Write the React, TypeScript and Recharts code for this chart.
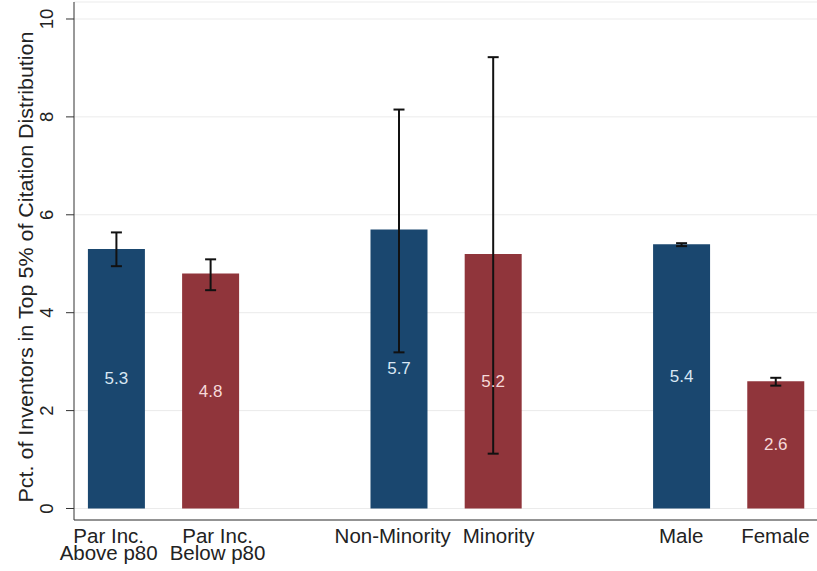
import React from "react";
import {
  BarChart,
  Bar,
  XAxis,
  YAxis,
  CartesianGrid,
  ErrorBar,
  Cell,
  LabelList,
} from "recharts";

// Groups come in pairs; each label may span two lines.
const categories = [
  "Par Inc.\nAbove p80",
  "Par Inc.\nBelow p80",
  "Non-Minority",
  "Minority",
  "Male",
  "Female",
];
const shares = [5.3, 4.8, 5.7, 5.2, 5.4, 2.6];
const ciLow = [4.95, 4.46, 3.19, 1.12, 5.36, 2.51];
const ciHigh = [5.64, 5.09, 8.15, 9.22, 5.42, 2.67];
const yTicks = [0, 2, 4, 6, 8, 10];
const yTitle = "Pct. of Inventors in Top 5% of Citation Distribution";

const NAVY = "#1a476f";
const MAROON = "#90353b";
const LABEL_ON_NAVY = "#d9e7f4";
const LABEL_ON_MAROON = "#f6dada";
const FONT = "'Liberation Sans', Arial, Helvetica, sans-serif";

const WIDTH = 817;
const HEIGHT = 571;
const Y_AXIS_WIDTH = 74;
const X_AXIS_HEIGHT = 51;
const X_DOMAIN: [number, number] = [-0.446, 7.442];
const Y_DOMAIN: [number, number] = [-0.235, 10.347];
const X_LABEL_SIZE = 20.5;
const LABEL_GAP = 12;

// Pairs sit in consecutive slots, with an empty slot between groups.
const rows = categories.map((label, i) => ({
  slot: i + Math.floor(i / 2),
  label,
  share: shares[i],
  err: [shares[i] - ciLow[i], ciHigh[i] - shares[i]],
  color: i % 2 === 0 ? NAVY : MAROON,
  labelColor: i % 2 === 0 ? LABEL_ON_NAVY : LABEL_ON_MAROON,
}));

// Push neighbouring axis labels apart when their text would collide.
function measureText(text: string, font: string): number {
  const ctx = document.createElement("canvas").getContext("2d");
  if (!ctx) return text.length * 10;
  ctx.font = font;
  return ctx.measureText(text).width;
}
const pxPerSlot = (WIDTH - Y_AXIS_WIDTH) / (X_DOMAIN[1] - X_DOMAIN[0]);
const labelWidths = rows.map((r) =>
  Math.max(...r.label.split("\n").map((l) => measureText(l, `${X_LABEL_SIZE}px ${FONT}`)))
);
const labelShift = rows.map(() => 0);
for (let i = 0; i < rows.length - 1; i++) {
  const dist = (rows[i + 1].slot - rows[i].slot) * pxPerSlot;
  const need = (labelWidths[i] + labelWidths[i + 1]) / 2 + LABEL_GAP;
  if (need > dist) {
    labelShift[i] -= (need - dist) / 2;
    labelShift[i + 1] += (need - dist) / 2;
  }
}

const XTick = (props: any) => {
  const { x, y, payload } = props;
  const idx = rows.findIndex((r) => r.slot === payload.value);
  if (idx < 0) return null;
  const lines = rows[idx].label.split("\n");
  const cx = x + labelShift[idx];
  return (
    <text
      x={cx}
      y={y}
      textAnchor="middle"
      fontFamily={FONT}
      fontSize={X_LABEL_SIZE}
      fill="#222"
    >
      {lines.map((line, k) => (
        <tspan key={k} x={cx} dy={k === 0 ? 23 : 17}>
          {line}
        </tspan>
      ))}
    </text>
  );
};

const YTick = (props: any) => {
  const { x, y, payload } = props;
  return (
    <text
      x={x}
      y={y}
      transform={`rotate(-90 ${x} ${y})`}
      textAnchor="middle"
      fontFamily={FONT}
      fontSize={18.5}
      fill="#222"
    >
      {payload.value}
    </text>
  );
};

const renderTitle = (props: any) => {
  const vb = props.viewBox || { x: 0, y: 0, width: Y_AXIS_WIDTH, height: HEIGHT };
  const tx = vb.x + 33;
  const ty = vb.y + vb.height / 2 + 6;
  return (
    <text
      x={tx}
      y={ty}
      transform={`rotate(-90 ${tx} ${ty})`}
      textAnchor="middle"
      fontFamily={FONT}
      fontSize={19.5}
      fill="#222"
      textLength={471}
      lengthAdjust="spacingAndGlyphs"
    >
      {yTitle}
    </text>
  );
};

const renderBarValue = (props: any) => {
  const { x, y, width, height, value, index } = props;
  return (
    <text
      x={x + width / 2}
      y={y + height / 2}
      textAnchor="middle"
      dominantBaseline="central"
      fontFamily={FONT}
      fontSize={17}
      fill={rows[index].labelColor}
    >
      {Number(value).toFixed(1)}
    </text>
  );
};

export default function App() {
  return (
    <div style={{ position: "absolute", left: 0, top: 0, background: "#fff" }}>
      <BarChart
        width={WIDTH}
        height={HEIGHT}
        data={rows}
        margin={{ top: 2, right: 0, bottom: 0, left: 0 }}
      >
        <CartesianGrid vertical={false} stroke="#ebebeb" strokeWidth={1} />
        <XAxis
          dataKey="slot"
          type="number"
          domain={X_DOMAIN}
          allowDataOverflow
          ticks={rows.map((r) => r.slot)}
          interval={0}
          tickLine={false}
          tickSize={0}
          tickMargin={0}
          height={X_AXIS_HEIGHT}
          axisLine={{ stroke: "#333", strokeWidth: 1 }}
          tick={<XTick />}
        />
        <YAxis
          type="number"
          domain={Y_DOMAIN}
          allowDataOverflow
          ticks={yTicks}
          interval={0}
          width={Y_AXIS_WIDTH}
          tickSize={8}
          tickMargin={13}
          tickLine={{ stroke: "#333", strokeWidth: 1 }}
          axisLine={{ stroke: "#333", strokeWidth: 1 }}
          tick={<YTick />}
          label={renderTitle}
        />
        <Bar dataKey="share" barSize={57} isAnimationActive={false}>
          {rows.map((r, i) => (
            <Cell key={i} fill={r.color} />
          ))}
          <LabelList dataKey="share" content={renderBarValue} />
          <ErrorBar
            dataKey="err"
            direction="y"
            width={5.5}
            strokeWidth={2}
            stroke="#111"
            isAnimationActive={false}
          />
        </Bar>
      </BarChart>
    </div>
  );
}
